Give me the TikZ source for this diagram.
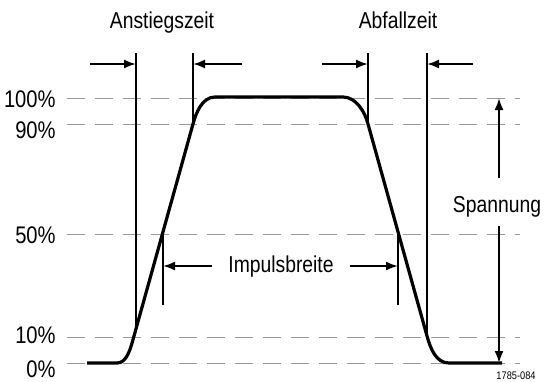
\documentclass[tikz,border=0pt]{standalone}
\usepackage{fontspec}
\setmainfont[FakeStretch=0.84]{Liberation Sans}
\usepackage{tikz}
\usetikzlibrary{arrows.meta}

\begin{document}
\begin{tikzpicture}[x=0.5pt, y=-0.5pt,
    level/.style={gray!80, line width=0.5pt, dash pattern=on 9pt off 5pt},
    pulse/.style={line width=1.6pt, line join=round},
    marker/.style={line width=0.75pt},
    dimarrow/.style={line width=1pt, -{Latex[length=6pt,width=4.5pt]}},
    txt/.style={font=\fontsize{11.5}{13}\selectfont, inner sep=0pt, anchor=base},
    pct/.style={font=\fontsize{12}{14}\selectfont, inner sep=0pt, anchor=base east}]
                \useasboundingbox (0,0) rectangle (544,381);

                % level lines and percent labels
                \foreach \y/\lab/\ly in {98/100/107, 124/90/138, 234/50/243, 337/10/343, 363/0/377} {
                    \draw[level] (67,\y) -- (520,\y);
                    \node[pct] (p\lab) at (56,\ly) {\lab\%};
                }

                % pulse
                \draw[pulse] (87,363) -- (117,363) .. controls (127,363) and (130.5,348.7) .. (134,336)
                    -- (193,124) .. controls (196,113) and (202,97) .. (215,97)
                    -- (343,97) .. controls (356,97) and (365,112) .. (368,124)
                    -- (427,336) .. controls (430.5,348.7) and (436,363) .. (449,363) -- (502,363);

                % titles
                \node[txt] (anstieg) at (162,28) {Anstiegszeit};
                \node[txt] (abfall) at (398,28) {Abfallzeit};
                \node[txt] (impuls) at (281,272) {Impulsbreite};
                \node[txt] (spannung) at (497,212) {Spannung};
                \node[font=\fontsize{5.5}{6}\selectfont, inner sep=0pt] (code) at (516,376) {1785-084};

                % marker lines
                \coordinate (m1) at (136,53);  \coordinate (m1b) at (136,326);
                \coordinate (m2) at (193,53);  \coordinate (m2b) at (193,124);
                \coordinate (m3) at (368,53);  \coordinate (m3b) at (368,124);
                \coordinate (m4) at (427,53);  \coordinate (m4b) at (427,336);
                \coordinate (w1) at (163,233); \coordinate (w1b) at (163,305);
                \coordinate (w2) at (398,233); \coordinate (w2b) at (398,305);
                \foreach \m in {m1, m2, m3, m4, w1, w2}
                    \draw[marker] (\m) -- (\m b);

                % time arrows
                \coordinate (a1) at (90,64);  \coordinate (a2) at (242,64);
                \coordinate (a3) at (322,64); \coordinate (a4) at (473,64);
                \draw[dimarrow] (a1) -- (m1 |- a1);
                \draw[dimarrow] (a2) -- (m2 |- a2);
                \draw[dimarrow] (a3) -- (m3 |- a3);
                \draw[dimarrow] (a4) -- (m4 |- a4);

                % pulse width arrows
                \coordinate (b1) at (212,266); \coordinate (b2) at (350,266);
                \draw[dimarrow] (b1) -- (w1 |- b1);
                \draw[dimarrow] (b2) -- (w2 |- b2);

                % voltage arrows
                \coordinate (s1) at (499,178); \coordinate (s1t) at (499,98);
                \coordinate (s2) at (499,226); \coordinate (s2t) at (499,363);
                \draw[dimarrow] (s1) -- (s1t);
                \draw[dimarrow] (s2) -- (s2t);
            \end{tikzpicture}
\end{document}
